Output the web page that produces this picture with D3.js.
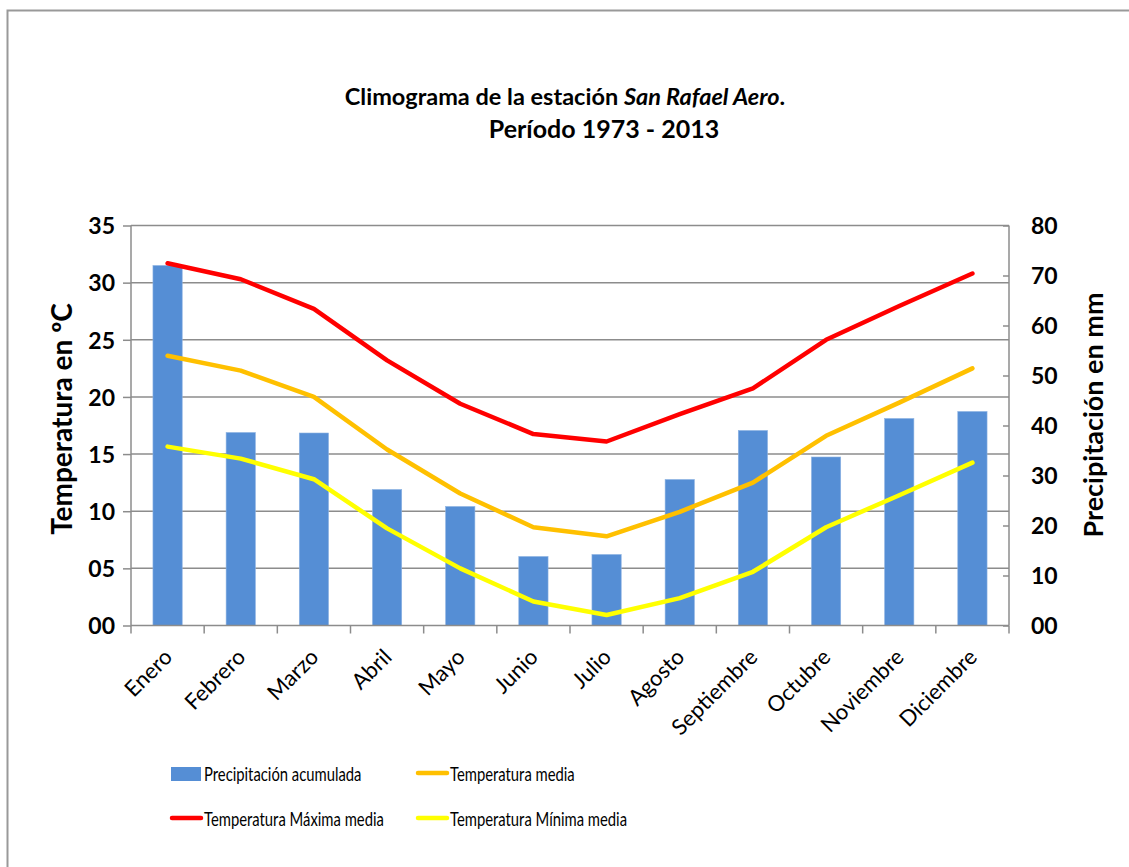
<!DOCTYPE html>
<html>
<head>
<meta charset="utf-8">
<script src="https://cdn.jsdelivr.net/npm/d3@7"></script>
<style>
  body { margin: 0; background: #fff; }
  svg { font-family: Lato, "Open Sans", sans-serif; }
</style>
</head>
<body>
<div id="chart"></div>
<script>
// data
var months = ["Enero", "Febrero", "Marzo", "Abril", "Mayo", "Junio", "Julio",
  "Agosto", "Septiembre", "Octubre", "Noviembre", "Diciembre"];
var precip = [72.0, 38.6, 38.5, 27.2, 23.8, 13.8, 14.2, 29.2, 39.0, 33.7, 41.4, 42.8];
var tempMedia = [23.6, 22.3, 20.0, 15.4, 11.55, 8.6, 7.8, 9.95, 12.5, 16.6, 19.5, 22.5];
var tempMax = [31.7, 30.3, 27.7, 23.2, 19.4, 16.75, 16.1, 18.5, 20.75, 25.0, 27.95, 30.8];
var tempMin = [15.65, 14.6, 12.8, 8.5, 5.0, 2.1, 0.92, 2.4, 4.7, 8.6, 11.4, 14.25];
var tempTicks = [0, 5, 10, 15, 20, 25, 30, 35];
var precipTicks = [0, 10, 20, 30, 40, 50, 60, 70, 80];

var W = 1129, H = 867;
var plotL = 131, plotR = 1009, plotT = 225.5, plotB = 625.5;

var svg = d3.select("#chart").append("svg")
  .attr("width", W).attr("height", H);

// outer frame of the chart object
svg.append("rect")
  .attr("x", 7.5).attr("y", 10.5)
  .attr("width", W + 20).attr("height", H + 20)
  .attr("fill", "#fff").attr("stroke", "#999").attr("stroke-width", 2);

var x = d3.scaleBand().domain(months).range([plotL, plotR]).paddingInner(0).paddingOuter(0);
var yT = d3.scaleLinear().domain([0, 35]).range([plotB, plotT]);
var yP = d3.scaleLinear().domain([0, 80]).range([plotB, plotT]);

function pad2(d) { return d < 10 ? "0" + d : "" + d; }

// gridlines
svg.append("g").selectAll("line").data(tempTicks.slice(1)).enter().append("line")
  .attr("x1", plotL).attr("x2", plotR)
  .attr("y1", function(d) { return yT(d); }).attr("y2", function(d) { return yT(d); })
  .attr("stroke", "#8c8c8c").attr("stroke-width", 1.5);

// bars
var barW = x.bandwidth() * 0.4;
svg.append("g").selectAll("rect").data(precip).enter().append("rect")
  .attr("x", function(d, i) { return x(months[i]) + (x.bandwidth() - barW) / 2; })
  .attr("y", function(d) { return yP(d); })
  .attr("width", barW)
  .attr("height", function(d) { return yP(0) - yP(d); })
  .attr("fill", "#558ed5").attr("stroke", "#8db3e2").attr("stroke-width", 0.6);

// lines
var line = d3.line()
  .x(function(d, i) { return x(months[i]) + x.bandwidth() / 2; })
  .y(function(d) { return yT(d); });

[[tempMedia, "#ffc000"], [tempMax, "#ff0000"], [tempMin, "#ffff00"]].forEach(function(s) {
  svg.append("path").datum(s[0])
    .attr("d", line)
    .attr("fill", "none").attr("stroke", s[1])
    .attr("stroke-width", 4.5).attr("stroke-linejoin", "round").attr("stroke-linecap", "round");
});

// left axis
var axL = svg.append("g").attr("transform", "translate(" + plotL + ",0)")
  .call(d3.axisLeft(yT).tickValues(tempTicks).tickSize(8).tickPadding(8).tickFormat(pad2));
// right axis
var axR = svg.append("g").attr("transform", "translate(" + plotR + ",0)")
  .call(d3.axisRight(yP).tickValues(precipTicks).tickSize(-6).tickPadding(22).tickFormat(pad2));

[axL, axR].forEach(function(a) {
  a.select(".domain").attr("stroke", "#8c8c8c").attr("stroke-width", 1.5)
    .attr("d", "M0," + plotB + "V" + plotT);
  a.selectAll(".tick line").attr("stroke", "#8c8c8c").attr("stroke-width", 1.5);
  a.selectAll(".tick text").attr("font-size", 23).attr("font-weight", "bold")
    .attr("fill", "#000").attr("font-family", "Lato").attr("dy", "0.36em");
});

// bottom axis line and category boundary ticks
svg.append("line").attr("x1", plotL).attr("x2", plotR).attr("y1", plotB).attr("y2", plotB)
  .attr("stroke", "#8c8c8c").attr("stroke-width", 1.5);
var edges = months.map(function(m) { return x(m); }).concat([plotR]);
svg.append("g").selectAll("line").data(edges).enter().append("line")
  .attr("x1", function(d) { return d; }).attr("x2", function(d) { return d; })
  .attr("y1", plotB).attr("y2", plotB + 8)
  .attr("stroke", "#8c8c8c").attr("stroke-width", 1.5);

// month labels
svg.append("g").selectAll("text").data(months).enter().append("text")
  .attr("transform", function(d) {
    return "translate(" + (x(d) + x.bandwidth() / 2 + 6) + "," + (plotB + 33) + ") rotate(-45)";
  })
  .attr("text-anchor", "end")
  .attr("font-size", 22).attr("fill", "#000")
  .text(function(d) { return d; });

// title
var title = svg.append("text").attr("text-anchor", "middle")
  .attr("x", 565).attr("y", 105)
  .attr("font-size", 23.5).attr("font-weight", "bold");
title.append("tspan").text("Climograma de la estación ");
title.append("tspan").attr("font-style", "italic").text("San Rafael Aero");
title.append("tspan").text(".");
svg.append("text").attr("text-anchor", "middle")
  .attr("x", 604).attr("y", 138)
  .attr("font-size", 25).attr("font-weight", "bold")
  .text("Período 1973 - 2013");

// axis titles
svg.append("text")
  .attr("transform", "translate(72,419) rotate(-90)")
  .attr("text-anchor", "middle")
  .attr("font-size", 28).attr("font-weight", "bold")
  .text("Temperatura en ºC");
svg.append("text")
  .attr("transform", "translate(1103,415) rotate(-90)")
  .attr("text-anchor", "middle")
  .attr("font-size", 27).attr("font-weight", "bold")
  .text("Precipitación en mm");

// legend
var legend = [
  { label: "Precipitación acumulada", color: "#558ed5", bar: true, x: 171, y: 773 },
  { label: "Temperatura media", color: "#ffc000", bar: false, x: 417, y: 773 },
  { label: "Temperatura Máxima media", color: "#ff0000", bar: false, x: 171, y: 818 },
  { label: "Temperatura Mínima media", color: "#ffff00", bar: false, x: 417, y: 818 }
];
var lg = svg.append("g").selectAll("g").data(legend).enter().append("g")
  .attr("transform", function(d) { return "translate(" + d.x + "," + d.y + ")"; });
lg.filter(function(d) { return d.bar; }).append("rect")
  .attr("x", 0).attr("y", -6).attr("width", 30).attr("height", 14)
  .attr("fill", function(d) { return d.color; });
lg.filter(function(d) { return !d.bar; }).append("line")
  .attr("x1", 1).attr("x2", 30).attr("y1", 0).attr("y2", 0)
  .attr("stroke", function(d) { return d.color; })
  .attr("stroke-width", 4.5).attr("stroke-linecap", "round");
// the original legend font is narrow, so squeeze the text a bit
lg.append("text")
  .attr("x", 33).attr("y", 7.5)
  .attr("font-size", 20).attr("fill", "#000")
  .text(function(d) { return d.label; })
  .each(function() {
    var len = this.getComputedTextLength();
    d3.select(this).attr("textLength", len * 0.74).attr("lengthAdjust", "spacingAndGlyphs");
  });
</script>
</body>
</html>
